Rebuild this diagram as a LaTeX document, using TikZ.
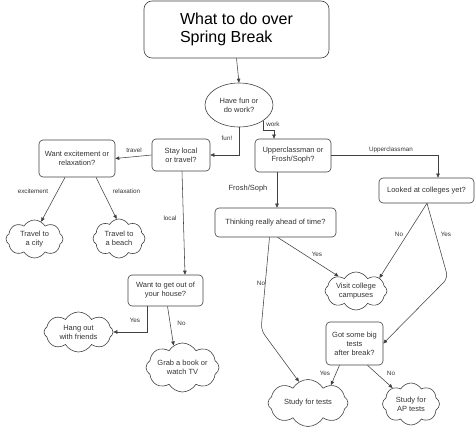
\documentclass[tikz,border=0pt]{standalone}
\usepackage{fontspec}
\setmainfont{Liberation Sans}
\usetikzlibrary{shapes.geometric,shapes.symbols,arrows.meta,calc}
\definecolor{linecol}{gray}{0.25}
\definecolor{txtcol}{gray}{0.2}
\begin{document}
\begin{tikzpicture}[x=1pt,y=-1pt,
  box/.style={draw=linecol, line width=0.6pt, rounded corners=4pt, align=center,
    font=\fontsize{7.5}{9}\selectfont, text=txtcol, inner sep=1pt},
  titlebox/.style={draw=linecol, line width=0.6pt, rounded corners=8pt, align=left,
    font=\fontsize{16}{18}\selectfont, text=black, inner sep=1pt},
  oval/.style={ellipse, draw=linecol, line width=0.6pt, align=center,
    font=\fontsize{7.5}{9}\selectfont, text=txtcol, inner sep=0pt},
  cloudn/.style={cloud, cloud puffs=8, cloud puff arc=120, cloud ignores aspect,
    draw=linecol, line width=0.6pt, inner sep=0pt},
  cloudtxt/.style={align=center, font=\fontsize{7.5}{9}\selectfont, text=txtcol, inner sep=0pt},
  lbl/.style={font=\fontsize{6.3}{7}\selectfont, text=txtcol, inner sep=0pt},
  arr/.style={draw=linecol, line width=0.55pt, -{Triangle[length=4pt,width=3.5pt]}}
]
\useasboundingbox (0,0) rectangle (475,430);

% nodes
\node[titlebox, minimum width=185pt, minimum height=57pt] (title) at (236.5,29.5)
  {What to do over\\Spring Break};
\node[oval, minimum width=68pt, minimum height=44pt] (q1) at (239,105) {Have fun or\\do work?};
\node[box, minimum width=58pt, minimum height=32pt] (stay) at (181,155) {Stay local\\or travel?};
\node[box, minimum width=76pt, minimum height=37pt] (want) at (77,158.5) {Want excitement or\\relaxation?};
\node[box, minimum width=76pt, minimum height=33pt] (upper) at (293,155.5) {Upperclassman or\\Frosh/Soph?};
\node[box, minimum width=95pt, minimum height=25pt] (looked) at (426.5,190.5) {Looked at colleges yet?};
\node[box, minimum width=121pt, minimum height=29pt] (think) at (275.5,222.5) {Thinking really ahead of time?};
\node[box, minimum width=57pt, minimum height=43pt] (got) at (354.5,343.5) {Got some big\\tests\\after break?};
\node[box, minimum width=75pt, minimum height=31pt] (out) at (165.5,290.5) {Want to get out of\\your house?};

\node[cloudn, minimum width=57pt, minimum height=38pt] (city) at (34.5,239) {};
\node[cloudtxt] (city-t) at (city.center) {Travel to\\a city};
\node[cloudn, minimum width=52pt, minimum height=39pt] (beach) at (119,238.5) {};
\node[cloudtxt] (beach-t) at (beach.center) {Travel to\\a beach};
\node[cloudn, minimum width=62pt, minimum height=38pt] (visit) at (356,291) {};
\node[cloudtxt] (visit-t) at (visit.center) {Visit college\\campuses};
\node[cloudn, minimum width=69pt, minimum height=40pt] (hang) at (78.5,332) {};
\node[cloudtxt] (hang-t) at (hang.center) {Hang out\\with friends};
\node[cloudn, minimum width=73pt, minimum height=49pt] (grab) at (182.5,367.5) {};
\node[cloudtxt] (grab-t) at (grab.center) {Grab a book or\\watch TV};
\node[cloudn, minimum width=80pt, minimum height=47pt] (tests) at (308,403) {};
\node[cloudtxt] (tests-t) at (tests.center) {Study for tests};
\node[cloudn, minimum width=57pt, minimum height=42pt] (ap) at (411,404) {};
\node[cloudtxt] (ap-t) at (ap.center) {Study for\\AP tests};

% helper coordinates
\coordinate (w1) at (274,130);
\coordinate (c1) at (261,330);
\coordinate (c2) at (448,278);

% connectors
\draw[arr] (title.south) -- (q1.north);
\draw[arr] (q1.south) |- (stay.east);
\draw[arr] (q1.south east) |- (w1) -- (w1 |- upper.north);
\draw[arr] (stay.west) -- (want.east);
\draw[arr] ([xshift=-12pt]want.south) -- (city.69);
\draw[arr] ([xshift=19pt]want.south) -- (beach.97);
\draw[arr] ([xshift=1pt]stay.south) -- ([xshift=19.5pt]out.north);
\draw[arr] ([xshift=-18pt]out.south) |- (hang.east);
\draw[arr] ([xshift=2pt]out.south) -- (grab.112);
\draw[arr] (upper.east) -| ([xshift=11.5pt]looked.north);
\draw[arr] ([xshift=-16pt]upper.south) -- ([xshift=1.5pt]think.north);
\draw[arr] ([xshift=2pt]think.south) -- (visit.140);
\draw[arr, rounded corners=6pt] ([xshift=-6pt]think.south) -- (c1) -- (tests.113);
\draw[arr] ([xshift=0.5pt]looked.south) -- (visit.29);
\draw[arr, rounded corners=6pt] ([xshift=0.5pt]looked.south) -- (c2) -- (got.east);
\draw[arr] ([xshift=-15pt]got.south) -- (tests.38);
\draw[arr] ([xshift=13pt]got.south) -- (ap.139);

% labels
\node[lbl] (lfun) at (227,138) {fun!};
\node[lbl] (lwork) at (273,124) {work};
\node[lbl] (ltravel) at (134,150.5) {travel};
\node[lbl] (lexc) at (33,191) {excitement};
\node[lbl] (lrel) at (126.5,191) {relaxation};
\node[lbl] (llocal) at (170,218) {local};
\node[lbl] (lyes1) at (135,320) {Yes};
\node[lbl] (lno1) at (181.5,323) {No};
\node[lbl] (lupper) at (391,150) {Upperclassman};
\node[lbl, font=\fontsize{7.5}{8}\selectfont] (lfrosh) at (248,189) {Frosh/Soph};
\node[lbl] (lyes2) at (317,254) {Yes};
\node[lbl] (lno2) at (261,283) {No};
\node[lbl] (lno3) at (399,234.5) {No};
\node[lbl] (lyes3) at (446,234.5) {Yes};
\node[lbl] (lyes4) at (325,373.5) {Yes};
\node[lbl] (lno4) at (391,373.5) {No};
\end{tikzpicture}
\end{document}
